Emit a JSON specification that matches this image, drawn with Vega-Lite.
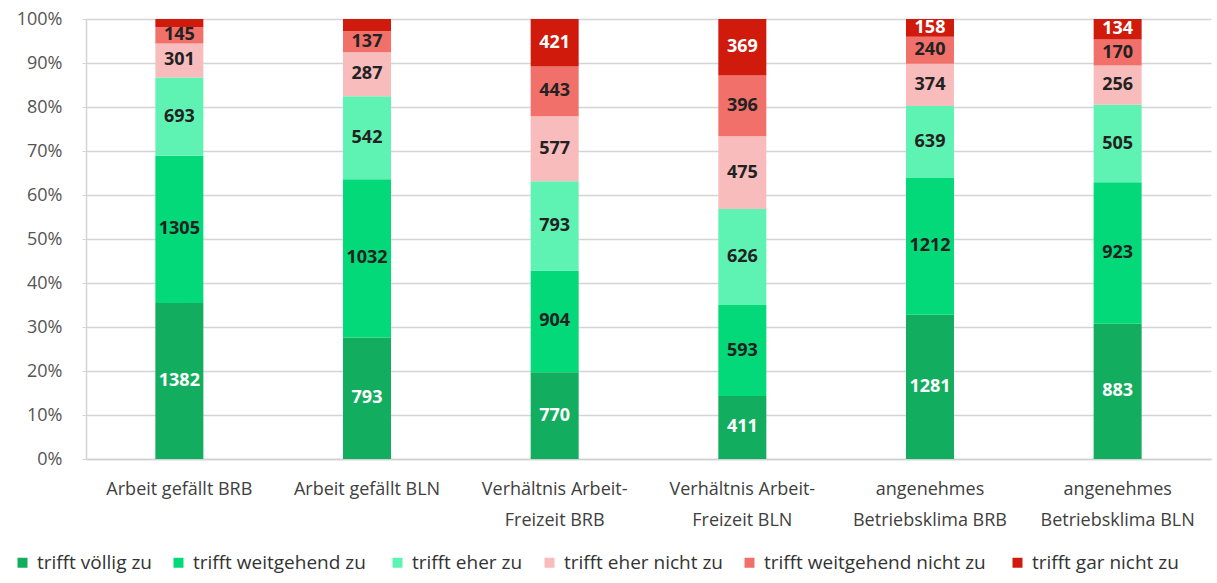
{
  "$schema": "https://vega.github.io/schema/vega-lite/v6.json",
  "width": 1125,
  "height": 440,
  "autosize": {"type": "none"},
  "padding": {"left": 86, "top": 19, "right": 6, "bottom": 124},
  "background": "white",
  "config": {
    "font": "Open Sans",
    "view": {"stroke": null},
    "axis": {"labelFont": "Open Sans"}
  },
  "data": {
    "values": [
      {"cat": "Arbeit gefällt BRB", "resp": "trifft völlig zu", "k": 1, "n": 1382},
      {"cat": "Arbeit gefällt BRB", "resp": "trifft weitgehend  zu", "k": 2, "n": 1305},
      {"cat": "Arbeit gefällt BRB", "resp": "trifft eher zu", "k": 3, "n": 693},
      {"cat": "Arbeit gefällt BRB", "resp": "trifft eher nicht zu", "k": 4, "n": 301},
      {"cat": "Arbeit gefällt BRB", "resp": "trifft weitgehend  nicht zu", "k": 5, "n": 145},
      {"cat": "Arbeit gefällt BRB", "resp": "trifft gar nicht zu", "k": 6, "n": 72},
      {"cat": "Arbeit gefällt BLN", "resp": "trifft völlig zu", "k": 1, "n": 793},
      {"cat": "Arbeit gefällt BLN", "resp": "trifft weitgehend  zu", "k": 2, "n": 1032},
      {"cat": "Arbeit gefällt BLN", "resp": "trifft eher zu", "k": 3, "n": 542},
      {"cat": "Arbeit gefällt BLN", "resp": "trifft eher nicht zu", "k": 4, "n": 287},
      {"cat": "Arbeit gefällt BLN", "resp": "trifft weitgehend  nicht zu", "k": 5, "n": 137},
      {"cat": "Arbeit gefällt BLN", "resp": "trifft gar nicht zu", "k": 6, "n": 80},
      {"cat": "Verhältnis Arbeit-Freizeit BRB", "resp": "trifft völlig zu", "k": 1, "n": 770},
      {"cat": "Verhältnis Arbeit-Freizeit BRB", "resp": "trifft weitgehend  zu", "k": 2, "n": 904},
      {"cat": "Verhältnis Arbeit-Freizeit BRB", "resp": "trifft eher zu", "k": 3, "n": 793},
      {"cat": "Verhältnis Arbeit-Freizeit BRB", "resp": "trifft eher nicht zu", "k": 4, "n": 577},
      {"cat": "Verhältnis Arbeit-Freizeit BRB", "resp": "trifft weitgehend  nicht zu", "k": 5, "n": 443},
      {"cat": "Verhältnis Arbeit-Freizeit BRB", "resp": "trifft gar nicht zu", "k": 6, "n": 421},
      {"cat": "Verhältnis Arbeit-Freizeit BLN", "resp": "trifft völlig zu", "k": 1, "n": 411},
      {"cat": "Verhältnis Arbeit-Freizeit BLN", "resp": "trifft weitgehend  zu", "k": 2, "n": 593},
      {"cat": "Verhältnis Arbeit-Freizeit BLN", "resp": "trifft eher zu", "k": 3, "n": 626},
      {"cat": "Verhältnis Arbeit-Freizeit BLN", "resp": "trifft eher nicht zu", "k": 4, "n": 475},
      {"cat": "Verhältnis Arbeit-Freizeit BLN", "resp": "trifft weitgehend  nicht zu", "k": 5, "n": 396},
      {"cat": "Verhältnis Arbeit-Freizeit BLN", "resp": "trifft gar nicht zu", "k": 6, "n": 369},
      {"cat": "angenehmes Betriebsklima BRB", "resp": "trifft völlig zu", "k": 1, "n": 1281},
      {"cat": "angenehmes Betriebsklima BRB", "resp": "trifft weitgehend  zu", "k": 2, "n": 1212},
      {"cat": "angenehmes Betriebsklima BRB", "resp": "trifft eher zu", "k": 3, "n": 639},
      {"cat": "angenehmes Betriebsklima BRB", "resp": "trifft eher nicht zu", "k": 4, "n": 374},
      {"cat": "angenehmes Betriebsklima BRB", "resp": "trifft weitgehend  nicht zu", "k": 5, "n": 240},
      {"cat": "angenehmes Betriebsklima BRB", "resp": "trifft gar nicht zu", "k": 6, "n": 158},
      {"cat": "angenehmes Betriebsklima BLN", "resp": "trifft völlig zu", "k": 1, "n": 883},
      {"cat": "angenehmes Betriebsklima BLN", "resp": "trifft weitgehend  zu", "k": 2, "n": 923},
      {"cat": "angenehmes Betriebsklima BLN", "resp": "trifft eher zu", "k": 3, "n": 505},
      {"cat": "angenehmes Betriebsklima BLN", "resp": "trifft eher nicht zu", "k": 4, "n": 256},
      {"cat": "angenehmes Betriebsklima BLN", "resp": "trifft weitgehend  nicht zu", "k": 5, "n": 170},
      {"cat": "angenehmes Betriebsklima BLN", "resp": "trifft gar nicht zu", "k": 6, "n": 134}
    ]
  },
  "transform": [
    {"stack": "n", "groupby": ["cat"], "sort": [{"field": "k", "order": "ascending"}], "offset": "normalize", "as": ["y0", "y1"]},
    {"calculate": "(datum.y0 + datum.y1) / 2", "as": "ymid"}
  ],
  "encoding": {
    "x": {
      "field": "cat",
      "type": "nominal",
      "sort": null,
      "title": null,
      "scale": {"paddingInner": 0.745, "paddingOuter": 0.37},
      "axis": {
        "labelAngle": 0,
        "labelPadding": 30,
        "labelFontSize": 18,
        "labelColor": "#404040",
        "labelLineHeight": 31,
        "labelBaseline": "middle",
        "labelLimit": 0,
        "labelOverlap": false,
        "ticks": false,
        "domainColor": "#d0d0d0",
        "domainWidth": 1.5,
        "labelExpr": "test(/Arbeit-Freizeit/, datum.label) ? [substring(datum.label, 0, 18), substring(datum.label, 18)] : test(/angenehmes/, datum.label) ? ['angenehmes', substring(datum.label, 11)] : datum.label"
      }
    }
  },
  "layer": [
    {
      "mark": {"type": "bar", "size": 48},
      "encoding": {
        "y": {
          "field": "y1",
          "type": "quantitative",
          "scale": {"domain": [0, 1], "nice": false},
          "title": null,
          "axis": {
            "format": ".0%",
            "values": [0, 0.1, 0.2, 0.3, 0.4, 0.5, 0.6, 0.7, 0.8, 0.9, 1],
            "labelOverlap": false,
            "labelFontSize": 18,
            "labelColor": "#555555",
            "labelPadding": 20,
            "gridColor": "#d4d4d4",
            "gridWidth": 1.5,
            "domain": true,
            "domainColor": "#d4d4d4",
            "domainWidth": 1.5,
            "ticks": true,
            "tickSize": 4,
            "tickColor": "#d4d4d4"
          }
        },
        "y2": {"field": "y0"},
        "color": {
          "field": "resp",
          "type": "nominal",
          "sort": null,
          "scale": {
            "domain": ["trifft völlig zu", "trifft weitgehend  zu", "trifft eher zu", "trifft eher nicht zu", "trifft weitgehend  nicht zu", "trifft gar nicht zu"],
            "range": ["#12ad5e", "#03d978", "#5ff3b3", "#f9bcbc", "#f2706a", "#cf1a0c"]
          },
          "legend": {
            "orient": "none",
            "legendX": -73,
            "legendY": 534,
            "direction": "horizontal",
            "columns": 6,
            "title": null,
            "symbolType": "square",
            "symbolSize": 100,
            "symbolStrokeWidth": 0,
            "labelFont": "Open Sans",
            "labelFontSize": 19,
            "labelColor": "#333333",
            "labelLimit": 0,
            "columnPadding": 17,
            "labelOffset": 5
          }
        }
      }
    },
    {
      "transform": [{"filter": "datum.n >= 100"}],
      "mark": {"type": "text", "font": "Open Sans", "fontSize": 18, "fontWeight": "bold", "baseline": "middle"},
      "encoding": {
        "y": {"field": "ymid", "type": "quantitative"},
        "text": {"field": "n", "type": "quantitative", "format": "d"},
        "color": {
          "condition": {"test": "datum.k == 1 || datum.k == 6", "value": "#ffffff"},
          "value": "#222222"
        }
      }
    }
  ]
}
